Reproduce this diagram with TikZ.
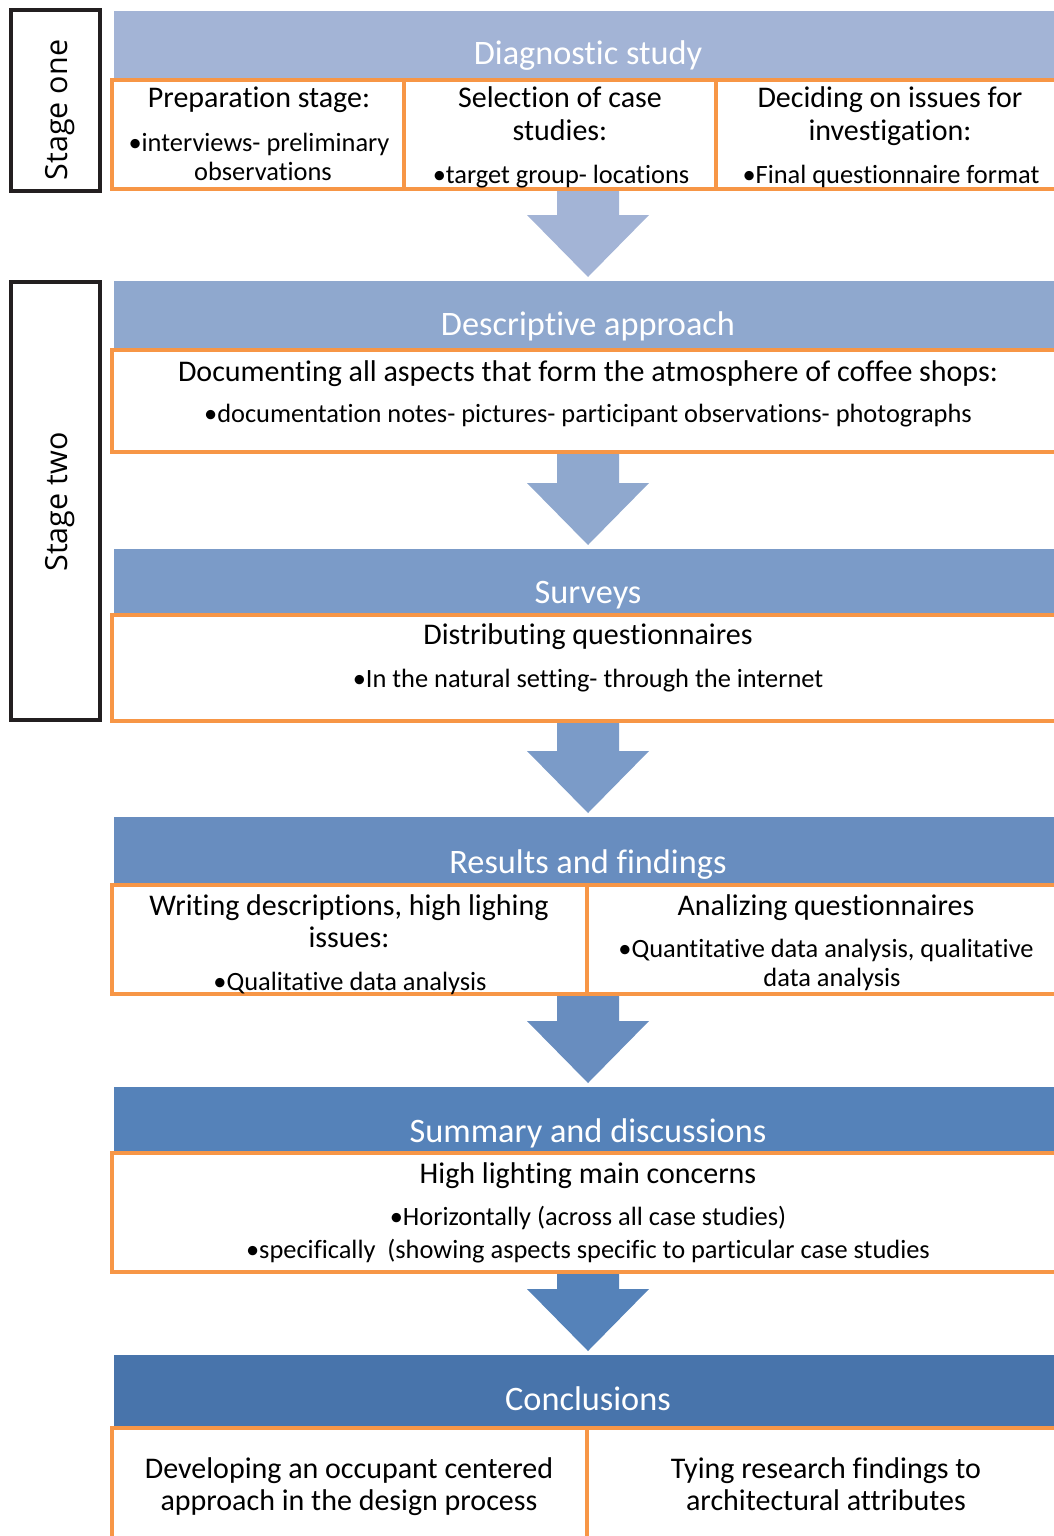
\documentclass[tikz,border=0pt]{standalone}
\usepackage{fontspec}
\setmainfont[Ligatures=NoCommon]{Carlito}
\newfontfamily\stagefont{Open Sans}
\usetikzlibrary{calc}
\definecolor{orangeline}{HTML}{F79646}
\definecolor{blueA}{HTML}{A3B4D6}
\definecolor{blueB}{HTML}{8FA8CE}
\definecolor{blueC}{HTML}{7B9BC8}
\definecolor{blueD}{HTML}{688DBF}
\definecolor{blueE}{HTML}{5582B9}
\definecolor{blueF}{HTML}{4874AB}
\definecolor{stageline}{HTML}{231F20}

% block arrow from the bottom of one row frame to the top of the next header
\newcommand\flowarrow[3]{%
  \fill[#3] ($(#1.south -| #2.north)+(-31,2)$) -- ($(#2.north)+(-31,-66)$)
    -- ($(#2.north)+(-61,-66)$) -- ($(#2.north)+(0,-4)$)
    -- ($(#2.north)+(61,-66)$) -- ($(#2.north)+(31,-66)$)
    -- ($(#1.south -| #2.north)+(31,2)$) -- cycle;}

\begin{document}
\begin{tikzpicture}[x=1pt,y=-1pt,
  hdr/.style={rectangle, fill=#1, draw=none, minimum width=948pt,
    inner sep=0pt, outer sep=0pt, anchor=north west},
  rowbox/.style={rectangle, draw=orangeline, line width=4pt, minimum width=954pt,
    inner sep=0pt, outer sep=0pt, anchor=north west},
  divider/.style={draw=orangeline, line width=4pt},
  stagebox/.style={rectangle, draw=stageline, line width=4.5pt, minimum width=89pt,
    inner sep=0pt, outer sep=0pt, anchor=north west},
  stagetext/.style={font=\stagefont\fontsize{30.5}{34}\selectfont, rotate=90,
    anchor=base, inner sep=0pt},
  title/.style={text=white, font=\fontsize{34.3}{40}\selectfont, anchor=base, inner sep=0pt},
  head/.style={font=\fontsize{30}{33}\selectfont, anchor=base, inner sep=0pt},
  bul/.style={font=\fontsize{26.4}{29}\selectfont, anchor=base, inner sep=0pt}]
\useasboundingbox (0,0) rectangle (1054,1536);
\clip (0,0) rectangle (1054,1536);

% stage frames
\node[stagebox, minimum height=181pt] (s1) at (11,10) {};
\node[stagetext] (s1t) at (67,110) {Stage one};
\node[stagebox, minimum height=438pt] (s2) at (11,282) {};
\node[stagetext] (s2t) at (67,502) {Stage two};

% header bands
\node[hdr=blueA, minimum height=69pt] (h1) at (114,11) {};
\node[hdr=blueB, minimum height=69pt] (h2) at (114,281) {};
\node[hdr=blueC, minimum height=66pt] (h3) at (114,549) {};
\node[hdr=blueD, minimum height=68pt] (h4) at (114,817) {};
\node[hdr=blueE, minimum height=66pt] (h5) at (114,1087) {};
\node[hdr=blueF, minimum height=73pt] (h6) at (114,1355) {};

\node[title] (t1) at ($(h1.south)+(0,-15)$) {Diagnostic study};
\node[title] (t2) at ($(h2.south)+(0,-15)$) {Descriptive approach};
\node[title] (t3) at ($(h3.south)+(0,-12)$) {Surveys};
\node[title] (t4) at ($(h4.south)+(0,-12)$) {Results and findings};
\node[title] (t5) at ($(h5.south)+(0,-11)$) {Summary and discussions};
\node[title] (t6) at ($(h6.south)+(0,-18)$) {Conclusions};

% orange row frames
\node[rowbox, minimum height=109pt] (r1) at (112,80) {};
\node[rowbox, minimum height=102pt] (r2) at (112,350) {};
\node[rowbox, minimum height=106pt] (r3) at (112,615) {};
\node[rowbox, minimum height=109pt] (r4) at (112,885) {};
\node[rowbox, minimum height=119pt] (r5) at (112,1153) {};
\node[rowbox, minimum height=140pt] (r6) at (112,1428) {};

\draw[divider] ($(r1.north west)+(292,0)$) -- ($(r1.south west)+(292,0)$);
\draw[divider] ($(r1.north west)+(604,0)$) -- ($(r1.south west)+(604,0)$);
\draw[divider] ($(r4.north west)+(475,0)$) -- ($(r4.south west)+(475,0)$);
\draw[divider] ($(r6.north west)+(475,0)$) -- ($(r6.south west)+(475,0)$);

% arrows between the stages
\flowarrow{r1}{h2}{blueA}
\flowarrow{r2}{h3}{blueB}
\flowarrow{r3}{h4}{blueC}
\flowarrow{r4}{h5}{blueD}
\flowarrow{r5}{h6}{blueE}

% row 1: diagnostic study
\node[head] (a1) at (259,108) {Preparation stage:};
\node[bul]  (a2) at (259,151) {•interviews- preliminary};
\node[bul]  (a3) at (263,180) {observations};
\node[head] (b1) at (560,108) {Selection of case};
\node[head] (b2) at (560,141) {studies:};
\node[bul]  (b3) at (561,183) {•target group- locations};
\node[head] (c1) at (890,108) {Deciding on issues for};
\node[head] (c2) at (890,141) {investigation:};
\node[bul]  (c3) at (891,183) {•Final questionnaire format};

% row 2: descriptive approach
\node[head] (d1) at (588,381) {Documenting all aspects that form the atmosphere of coffee shops:};
\node[bul]  (d2) at (588,422) {•documentation notes- pictures- participant observations- photographs};

% row 3: surveys
\node[head] (e1) at (588,644) {Distributing questionnaires};
\node[bul]  (e2) at (588,687) {•In the natural setting- through the internet};

% row 4: results and findings
\node[head] (f1) at (349,915) {Writing descriptions, high lighing};
\node[head] (f2) at (349,947) {issues:};
\node[bul]  (f3) at (350,990) {•Qualitative data analysis};
\node[head] (g1) at (826,915) {Analizing questionnaires};
\node[bul]  (g2) at (826,957) {•Quantitative data analysis, qualitative};
\node[bul]  (g3) at (832,986) {data analysis};

% row 5: summary and discussions
\node[head] (k1) at (588,1183) {High lighting main concerns};
\node[bul]  (k2) at (588,1225) {•Horizontally (across all case studies)};
\node[bul]  (k3) at (588,1258) {•specifically~~(showing aspects specific to particular case studies};

% row 6: conclusions
\node[head] (m1) at (349,1478) {Developing an occupant centered};
\node[head] (m2) at (349,1510) {approach in the design process};
\node[head] (n1) at (826,1478) {Tying research findings to};
\node[head] (n2) at (826,1510) {architectural attributes};
\end{tikzpicture}
\end{document}
